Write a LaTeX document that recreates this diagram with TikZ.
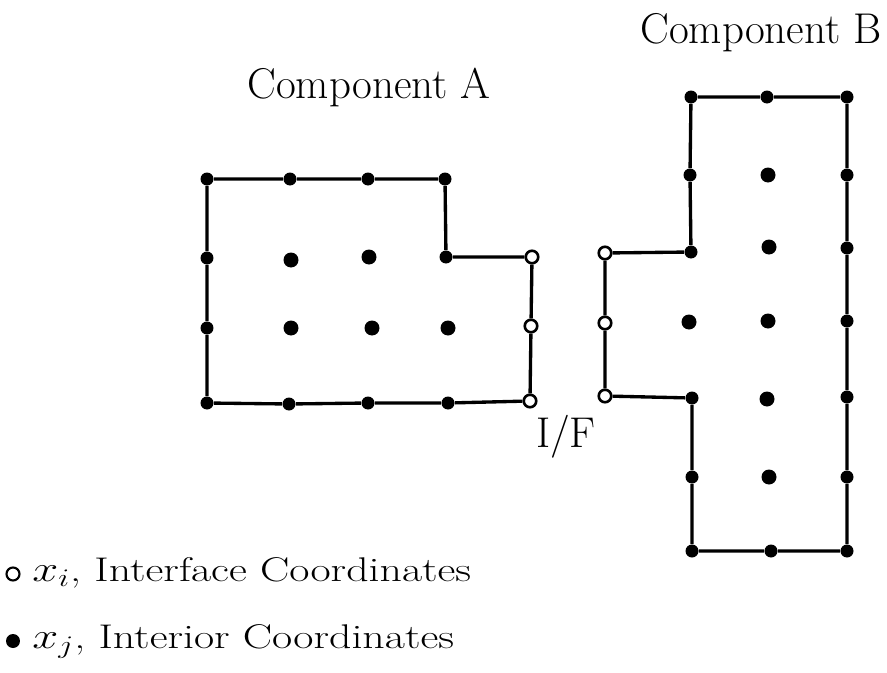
\documentclass[tikz,border=0pt]{standalone}
\usepackage{graphicx}
\begin{document}
\begin{tikzpicture}[x=0.02cm,y=-0.02cm,
  bd/.style={circle,fill=black,inner sep=0pt,minimum size=0.26cm},
  idot/.style={circle,fill=black,inner sep=0pt,minimum size=0.3cm},
  od/.style={circle,draw=black,fill=white,line width=1.5pt,inner sep=0pt,minimum size=0.25cm},
  edge/.style={line width=1.9pt},
  lbl/.style={font=\fontsize{24.5}{29}\selectfont, anchor=base, inner sep=0pt},
  leg/.style={font=\fontsize{19.5}{23}\selectfont, anchor=base west, inner sep=0pt}]
\useasboundingbox (0,0) rectangle (887,673);

% Component A
\node[bd] (a1) at (207,179) {};
\node[bd] (a2) at (290,179) {};
\node[bd] (a3) at (368,179) {};
\node[bd] (a4) at (445,179) {};
\node[bd] (a5) at (446,257) {};
\node[od] (a6) at (532,257) {};
\node[od] (a7) at (531,326) {};
\node[od] (a8) at (530,401) {};
\node[bd] (a9) at (448,403) {};
\node[bd] (a10) at (368,403) {};
\node[bd] (a11) at (289,404) {};
\node[bd] (a12) at (207,403) {};
\node[bd] (a13) at (207,328) {};
\node[bd] (a14) at (207,258) {};
\draw[edge] (a1) -- (a2) -- (a3) -- (a4) -- (a5) -- (a6) -- (a7) -- (a8) -- (a9) -- (a10) -- (a11) -- (a12) -- (a13) -- (a14) -- (a1);
\node[idot] (ai1) at (291,260) {};
\node[idot] (ai2) at (369,257) {};
\node[idot] (ai3) at (291,328) {};
\node[idot] (ai4) at (372,328) {};
\node[idot] (ai5) at (448,328) {};

% Component B
\node[bd] (b1) at (691,97) {};
\node[bd] (b2) at (767,97) {};
\node[bd] (b3) at (847,97) {};
\node[bd] (b4) at (847,175) {};
\node[bd] (b5) at (847,248) {};
\node[bd] (b6) at (847,321) {};
\node[bd] (b7) at (847,397) {};
\node[bd] (b8) at (847,477) {};
\node[bd] (b9) at (847,551) {};
\node[bd] (b10) at (771,551) {};
\node[bd] (b11) at (692,551) {};
\node[bd] (b12) at (692,477) {};
\node[bd] (b13) at (692,398) {};
\node[od] (b14) at (605,396) {};
\node[od] (b15) at (605,323) {};
\node[od] (b16) at (605,253) {};
\node[bd] (b17) at (691,252) {};
\node[bd] (b18) at (690,175) {};
\draw[edge] (b1) -- (b2) -- (b3) -- (b4) -- (b5) -- (b6) -- (b7) -- (b8) -- (b9) -- (b10) -- (b11) -- (b12) -- (b13) -- (b14) -- (b15) -- (b16) -- (b17) -- (b18) -- (b1);
\node[idot] (bi1) at (768,175) {};
\node[idot] (bi2) at (769,247) {};
\node[idot] (bi3) at (689,322) {};
\node[idot] (bi4) at (768,321) {};
\node[idot] (bi5) at (767,399) {};
\node[idot] (bi6) at (769,477) {};

% Labels
\node[lbl] (ta) at (369,98) {Component A};
\node[lbl] (tb) at (761,43) {Component B};
\node[lbl] (tif) at (566,447) {I/F};

% Legend
\node[od, minimum size=0.26cm, line width=1.2pt] (lo) at (13,574) {};
\node[bd, minimum size=0.28cm] (lf) at (13,641) {};
\node[leg] (l1) at (32,581) {\scalebox{1.28}[1]{$x_i$, Interface Coordinates}};
\node[leg] (l2) at (32,648) {\scalebox{1.28}[1]{$x_j$, Interior Coordinates}};
\end{tikzpicture}
\end{document}
